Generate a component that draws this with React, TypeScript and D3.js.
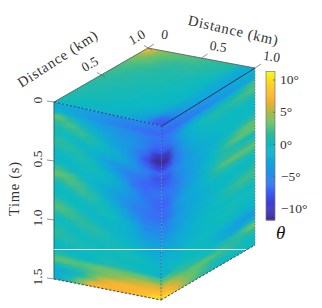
import * as d3 from "d3";

const leftFace: number[][] = [
  [-2, -2.5, -3, -3.5, -4, -4.5, -5, -5, -5.5, -6],
  [-1, -2, -3, -4, -4.5, -5, -5.5, -6, -6.5, -7],
  [3, 1, -1, -2.5, -3.5, -4, -4.5, -5, -5.5, -6],
  [1.5, 2.5, 1, -1, -2.5, -3.5, -4, -4.5, -5.5, -6.5],
  [0.5, 1, 2, 0.5, -1.5, -3, -3.5, -4.5, -5.5, -7.5],
  [0.5, 0, 0.5, 1, -0.5, -2.5, -3.5, -5, -7, -10],
  [1.5, 0.5, -0.5, -0.5, -0.5, -1.5, -3, -5, -8, -11.5],
  [1, 1.5, 0.5, -1, -2, -2, -2.5, -4.5, -7, -9],
  [0, 0.5, 1, -0.5, -2.5, -4, -4, -4.5, -5.5, -7],
  [-0.5, 0, 0.5, 0.5, -1.5, -3.5, -5, -5.5, -6, -8],
  [0, -0.5, 0, 0.5, 0, -2, -4.5, -6, -7, -7.5],
  [2, 0.5, -0.5, -0.5, -0.5, -1.5, -3.5, -6, -7, -6.5],
  [3, 2.5, 0.5, -1, -1.5, -2, -3, -5, -6.5, -6],
  [1.5, 2.5, 2, 0, -1.5, -3, -3.5, -4.5, -6, -7],
  [0, 1, 2, 1, -1, -3, -4.5, -5, -5.5, -7],
  [0, 0, 1, 1.5, 0, -2, -4, -5.5, -6, -6.5],
  [0.5, 0, 0, 0.5, 0.5, -1, -3, -5, -6, -6.5],
  [2, 0.5, 0, -0.5, 0.5, 0, -2, -4, -5.5, -5.5],
  [2.5, 2, 0.5, -0.5, -0.5, 0, -1, -3, -5, -5],
  [1, 2, 1.5, 0.5, -0.5, -0.5, -1, -2.5, -4, -4.5],
  [0, 0.5, 1.5, 1.5, 0.5, -0.5, -1, -2, -3.5, -3.5],
  [0.5, 0, 0.5, 1, 1, 0, -0.5, -1.5, -2.5, -3],
  [1.5, 0.5, 0, 0.5, 0.5, 0.5, 0, -0.5, -1.5, -2.5],
  [1, 1, 0.5, 0, 0, 0.5, 0.5, 0, -1, -1.5],
  [0, 0.5, 0.5, 0.5, 0, 0, 0.5, 0.5, 0, -1],
  [-0.5, -0.5, -0.5, 0, 0.5, 0.5, 0, 0, 0, -0.5],
  [1, 0.5, 0, 0, 0.5, 1, 1, 0.5, 0, -1],
  [3, 3, 2.5, 3, 3.5, 3.5, 3.5, 3.5, 3.5, 3],
  [0.5, 1, 1.5, 2.5, 3.5, 4, 5, 5.5, 6, 6],
  [-2, -1, 0.5, 3, 6, 7, 7.5, 7.5, 7.5, 8],
  [-1, 1, 4, 7, 7.5, 7.5, 7.5, 8, 8.5, 10],
];

const rightFace: number[][] = [
  [-6, -5.5, -5, -4.5, -4, -3.5, -3, -2.5, -2, -1.5],
  [-7, -6.5, -6, -5.5, -5, -4.5, -4, -3.5, -3, -2.5],
  [-6, -5, -3.5, -2.5, -2, -1.5, -1, -0.5, 0.5, 2],
  [-6.5, -4.5, -2, -0.5, 0.5, 1, 1, 1.5, 2, 2.5],
  [-7.5, -5, -2.5, -1, 0, 0.5, 0.5, 0.5, 1, 1],
  [-10, -5.5, -3, -1.5, -0.5, 0, 0, 0, 0, 0],
  [-11.5, -6, -3.5, -2, -1, -0.5, 0, 0, 0, -0.5],
  [-9, -6, -4, -2.5, -1.5, -1, -0.5, 0, 0, 0],
  [-7, -5.5, -4, -3, -2, -1.5, -0.5, 0, 1, 1.5],
  [-8, -5, -4, -3, -2, -1, 0.5, 1.5, 2.5, 3],
  [-7.5, -5.5, -4, -3, -2, -0.5, 1, 2.5, 3, 3],
  [-6.5, -6, -4.5, -3, -1.5, 0, 1, 1, 0.5, 0],
  [-6, -5.5, -4, -3, -1.5, 0.5, 1.5, 1.5, 1.5, 1.5],
  [-7, -5, -3.5, -2.5, -1, 1, 2.5, 3, 3, 3],
  [-7, -4.5, -3, -2, -1, 0.5, 1, 1, 1, 1],
  [-6.5, -4.5, -3, -2.5, -1.5, -0.5, 0, 0, 0, 0],
  [-6.5, -4.5, -3, -2.5, -1.5, -0.5, 0, 0, 0, 0.5],
  [-5.5, -4, -3, -2, -1.5, -0.5, 0, 0.5, 1, 1.5],
  [-5, -4, -3, -2, -1.5, -0.5, 0.5, 1.5, 2, 2],
  [-4.5, -3.5, -2.5, -1.5, -1, 0, 0.5, 1, 1, 1],
  [-3.5, -3, -2.5, -1.5, -0.5, 0, 0, 0, 0, 0],
  [-3, -2.5, -2, -1, -0.5, 0, 0, 0.5, 0.5, 0.5],
  [-2.5, -2, -1.5, -1, -0.5, 0, 0.5, 0.5, 0, 0],
  [-1.5, -1.5, -1, -0.5, 0, 0, 0, 0, -0.5, -0.5],
  [-1, -1, -0.5, 0, 0, -0.5, -1, -1.5, -2, -2],
  [-0.5, -0.5, 0, 0, 0, -1, -2, -3, -3.5, -4],
  [-1, 0.5, 0.5, 0, 0, -0.5, -2, -2.5, -2, -0.5],
  [3, 2, 1.5, 1, 0.5, 0, 1, 1, 2, 3.5],
  [6, 4.5, 3, 3, 3, 2.5, 2, 1.5, 1, 1],
  [8, 6, 4, 3, 2, 1, 1, 1, 0.5, 0],
  [10, 7, 4, 2.5, 1.5, 0.5, 0, 0, 0, 0],
];

const topFace: number[][] = [
  [0.5, 0, -0.5, -0.5, -1, -2, -3.5, -7.5],
  [1, 0.5, 0.5, 0, 0, -0.5, -1.5, -4.5],
  [1, 1, 0.5, 0.5, 0, 0, -0.5, -3],
  [1.5, 1, 1, 0.5, 0.5, 0, 0, -2.5],
  [2, 1.5, 1, 1, 0.5, 0.5, 0, -2.5],
  [2.5, 2, 1.5, 1, 1, 0.5, 0, -2.5],
  [4, 3, 2, 1.5, 1.5, 1, 0.5, -2.5],
  [8, 4, 3, 2.5, 2, 1.5, 1, -2],
];

const colorStops = [-11.7, -9, -7, -4.5, -2.5, 0, 1.5, 3, 5, 6.5, 8, 10, 11.2];
const colorValues = [
  "#3d2a95", "#3d3fd8", "#3c66f8", "#2090e8", "#10a8d8", "#0cb9c0", "#2bb9a0",
  "#5fc070", "#a8bc48", "#f0b030", "#ffb82e", "#f8e020", "#f9f90e",
];

const timeTicks = [0, 0.5, 1, 1.5];
const timeLabels = ["0", "0.5", "1.0", "1.5"];
const distTicks = [0, 0.5, 1];
const barTicks = [10, 5, 0, -5, -10];
const barLabels = ["10°", "5°", "0°", "−5°", "−10°"];

const A = { x: 54, y: 102 };
const B = { x: 148, y: 48 };
const C = { x: 255, y: 68 };
const D = { x: 162, y: 126 };
const E = { x: 54, y: 279 };
const F = { x: 161, y: 300 };
const G = { x: 255, y: 245 };

const color = d3
  .scaleLinear<string>()
  .domain(colorStops)
  .range(colorValues)
  .interpolate(d3.interpolateRgb);

const pts = (...p: { x: number; y: number }[]) => p.map((q) => `${q.x},${q.y}`).join(" ");
const serif = "'Liberation Serif', 'DejaVu Serif', serif";
const ink = "#333";

// one coloured face, cells in local pixels, skewed on to the cube by a matrix
const Face = ({
  id, data, width, height, matrix, clip, blur,
}: {
  id: string; data: number[][]; width: number; height: number;
  matrix: string; clip: string; blur: string;
}) => {
  const nRows = data.length;
  const nCols = data[0].length;
  const x = d3.scaleLinear().domain([0, nCols]).range([0, width]);
  const y = d3.scaleLinear().domain([0, nRows]).range([0, height]);
  const pad = 16;
  return (
    <g clipPath={`url(#clip-${id})`}>
      <defs>
        <clipPath id={`clip-${id}`}>
          <polygon points={clip} />
        </clipPath>
        <filter
          id={`blur-${id}`}
          filterUnits="userSpaceOnUse"
          x={-pad}
          y={-pad}
          width={width + 2 * pad}
          height={height + 2 * pad}
          colorInterpolationFilters="sRGB"
        >
          <feGaussianBlur stdDeviation={blur} />
        </filter>
      </defs>
      <g transform={matrix}>
        <g filter={`url(#blur-${id})`}>
          {data.map((row, r) =>
            row.map((v, c) => {
              const x0 = c === 0 ? -pad : x(c);
              const x1 = c === nCols - 1 ? width + pad : x(c + 1);
              const y0 = r === 0 ? -pad : y(r);
              const y1 = r === nRows - 1 ? height + pad : y(r + 1);
              return (
                <rect
                  key={`${r}-${c}`}
                  x={x0}
                  y={y0}
                  width={x1 - x0 + 0.6}
                  height={y1 - y0 + 0.6}
                  fill={color(v)}
                />
              );
            })
          )}
        </g>
      </g>
    </g>
  );
};

const App = () => {
  const leftW = D.x - A.x;
  const rightW = C.x - D.x;
  const faceH = 176;

  const timeY = d3.scaleLinear().domain([0, 1.5]).range([A.y, E.y]);
  const edgeAB = (v: number) => ({ x: A.x + (B.x - A.x) * v, y: A.y + (B.y - A.y) * v });
  const edgeBC = (v: number) => ({ x: B.x + (C.x - B.x) * v, y: B.y + (C.y - B.y) * v });

  const barY = d3.scaleLinear().domain([-10, 10]).range([209, 80]);
  const barSteps = d3.range(-11.7, 11.2, 0.15);

  // top face runs from edge A-D (row 0) to edge B-C (last row), and A to D along a row
  const topW = Math.hypot(D.x - A.x, D.y - A.y);
  const topH = Math.hypot(C.x - D.x, C.y - D.y);
  const topMatrix = `matrix(${(D.x - A.x) / topW} ${(D.y - A.y) / topW} ${(C.x - D.x) / topH} ${(C.y - D.y) / topH} ${A.x} ${A.y})`;

  return (
    <svg width={322} height={308} style={{ position: "absolute", left: 0, top: 0 }} fontFamily={serif}>
      <Face
        id="top"
        data={topFace}
        width={topW}
        height={topH}
        matrix={topMatrix}
        clip={pts(A, B, C, D)}
        blur="4 4"
      />
      <Face
        id="left"
        data={leftFace}
        width={leftW}
        height={faceH}
        matrix={`matrix(1 ${(D.y - A.y) / leftW} 0 1 ${A.x} ${A.y})`}
        clip={pts(A, D, F, E)}
        blur="3 1.6"
      />
      <Face
        id="right"
        data={rightFace}
        width={rightW}
        height={faceH}
        matrix={`matrix(1 ${(C.y - D.y) / rightW} 0 1 ${D.x} ${D.y})`}
        clip={pts(D, C, G, F)}
        blur="3 1.6"
      />

      {/* cube edges */}
      <g fill="none">
        <line x1={A.x} y1={A.y} x2={B.x} y2={B.y} stroke="#3d5a50" strokeWidth={0.8} />
        <line x1={B.x} y1={B.y} x2={C.x} y2={C.y} stroke="#555" strokeWidth={0.8} />
        <line x1={A.x} y1={A.y} x2={E.x} y2={E.y} stroke="#1c6a66" strokeWidth={1} />
        <line x1={A.x} y1={A.y} x2={D.x} y2={D.y} stroke="#1c2c70" strokeWidth={0.8} strokeDasharray="2.5 1.5" />
        <line x1={D.x} y1={D.y} x2={C.x} y2={C.y} stroke="#12204a" strokeWidth={0.9} />
        <line x1={D.x} y1={D.y} x2={F.x} y2={F.y} stroke="#1c3c90" strokeWidth={0.8} strokeDasharray="2 1.5" opacity={0.7} />
        <line x1={C.x} y1={C.y} x2={G.x} y2={G.y} stroke="#888" strokeWidth={0.8} strokeDasharray="1.5 1.5" />
        <line x1={E.x} y1={E.y} x2={F.x} y2={F.y} stroke="#333" strokeWidth={0.9} strokeDasharray="2.5 1.5" />
        <line x1={F.x} y1={F.y} x2={G.x} y2={G.y} stroke="#333" strokeWidth={0.9} strokeDasharray="2.5 1.5" />
      </g>
      <line x1={A.x} y1={249.5} x2={246} y2={249.5} stroke="#e4f6f0" strokeWidth={1} />

      {/* time axis */}
      {timeTicks.map((t, i) => (
        <g key={t}>
          <line x1={A.x - 7} y1={timeY(t) - 1} x2={A.x} y2={timeY(t)} stroke="#666" strokeWidth={0.7} />
          <text
            transform={`translate(42,${timeY(t) - 2}) rotate(-90)`}
            textAnchor="middle"
            fontSize={13.5}
            fill={ink}
          >
            {timeLabels[i]}
          </text>
        </g>
      ))}
      <text
        transform="translate(19,189) rotate(-90)"
        textAnchor="middle"
        fontSize={14.5}
        textLength={54}
        lengthAdjust="spacing"
        fill={ink}
      >
        Time (s)
      </text>

      {/* left distance axis */}
      {distTicks.map((v, i) => {
        const p = edgeAB(v);
        return i === 0 ? null : (
          <g key={v}>
            <line x1={p.x + 4} y1={p.y + 2} x2={p.x - 4} y2={p.y - 2.5} stroke="#666" strokeWidth={0.7} />
            <text
              transform={`translate(${p.x - 9},${p.y - 7}) rotate(-30)`}
              textAnchor="middle"
              fontSize={13.5}
              fill={ink}
            >
              {v === 1 ? "1.0" : "0.5"}
            </text>
          </g>
        );
      })}
      <text
        transform="translate(60,63) rotate(-33)"
        textAnchor="middle"
        fontSize={14.5}
        textLength={92}
        lengthAdjust="spacing"
        fill={ink}
      >
        Distance (km)
      </text>

      {/* right distance axis */}
      {distTicks.map((v) => {
        const p = edgeBC(v);
        return (
          <g key={v}>
            <line x1={p.x} y1={p.y} x2={p.x + 6} y2={p.y - 4} stroke="#666" strokeWidth={0.7} />
            <text
              transform={`translate(${p.x + 16},${p.y - (v === 0 ? 9 : 7)}) rotate(8)`}
              textAnchor="middle"
              fontSize={13.5}
              fill={ink}
            >
              {v === 0 ? "0" : v === 1 ? "1.0" : "0.5"}
            </text>
          </g>
        );
      })}
      <text
        transform="translate(232,35) rotate(13)"
        textAnchor="middle"
        fontSize={14.5}
        textLength={92}
        lengthAdjust="spacing"
        fill={ink}
      >
        Distance (km)
      </text>

      {/* colour bar */}
      {barSteps.map((v) => (
        <rect key={v} x={266} y={barY(v + 0.15)} width={9} height={Math.abs(barY(v) - barY(v + 0.15)) + 0.5} fill={color(v)} />
      ))}
      <rect x={266} y={71.5} width={9} height={148.5} fill="none" stroke="#777" strokeWidth={0.7} />
      {barTicks.map((v, i) => (
        <g key={v}>
          <line x1={273} y1={barY(v)} x2={275} y2={barY(v)} stroke="#555" strokeWidth={0.7} />
          <text x={v < 0 ? 281 : 280} y={barY(v) + 4} fontSize={13.5} fill={ink}>
            {barLabels[i]}
          </text>
        </g>
      ))}
      <text x={276} y={239} fontSize={19} fontStyle="italic" fill="#111">
        θ
      </text>
    </svg>
  );
};

export default App;
